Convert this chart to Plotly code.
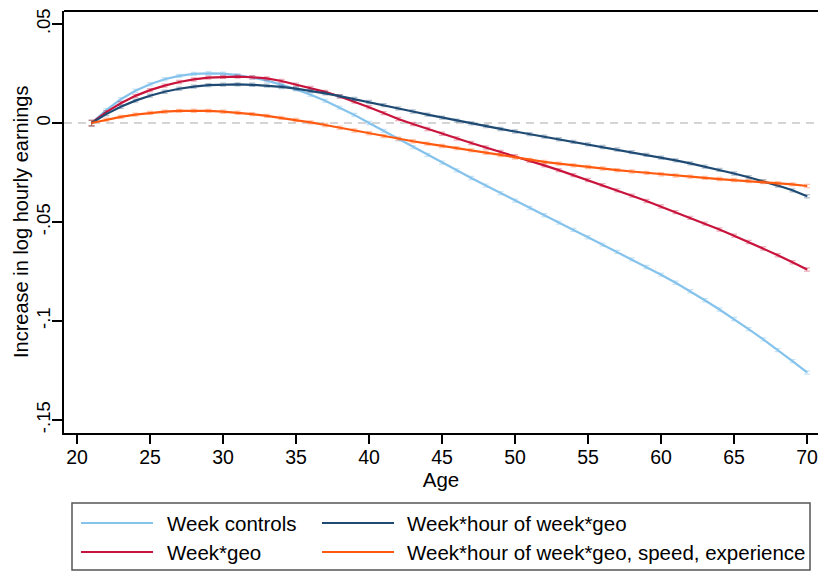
import plotly.graph_objects as go

# ---------------- data ----------------
ages = list(range(21, 71))

week_controls = [
    0.0000, 0.0065, 0.0120, 0.0163, 0.0196, 0.0221, 0.0238, 0.0248, 0.0251, 0.0249,
    0.0242, 0.0230, 0.0214, 0.0194, 0.0170, 0.0143, 0.0112, 0.0078, 0.0041, 0.0000,
    -0.0040, -0.0082, -0.0122, -0.0161, -0.0200, -0.0239, -0.0278, -0.0316, -0.0354, -0.0392,
    -0.0429, -0.0466, -0.0503, -0.0540, -0.0577, -0.0614, -0.0651, -0.0689, -0.0727, -0.0766,
    -0.0807, -0.0850, -0.0895, -0.0942, -0.0990, -0.1041, -0.1093, -0.1147, -0.1203, -0.1260,
]

week_geo = [
    0.0000, 0.0055, 0.0100, 0.0137, 0.0166, 0.0189, 0.0207, 0.0220, 0.0229, 0.0233,
    0.0234, 0.0231, 0.0225, 0.0212, 0.0194, 0.0177, 0.0157, 0.0134, 0.0108, 0.0080,
    0.0050, 0.0020, -0.0005, -0.0030, -0.0054, -0.0078, -0.0101, -0.0124, -0.0146, -0.0168,
    -0.0191, -0.0214, -0.0238, -0.0263, -0.0288, -0.0314, -0.0340, -0.0367, -0.0394, -0.0422,
    -0.0450, -0.0479, -0.0508, -0.0538, -0.0569, -0.0601, -0.0634, -0.0668, -0.0703, -0.0740,
]

week_hour_geo = [
    0.0000, 0.0045, 0.0082, 0.0113, 0.0138, 0.0158, 0.0173, 0.0184, 0.0191, 0.0194,
    0.0195, 0.0193, 0.0189, 0.0182, 0.0174, 0.0163, 0.0150, 0.0136, 0.0121, 0.0106,
    0.0090, 0.0074, 0.0058, 0.0042, 0.0027, 0.0012, -0.0002, -0.0016, -0.0030, -0.0043,
    -0.0056, -0.0069, -0.0082, -0.0095, -0.0108, -0.0121, -0.0134, -0.0147, -0.0161, -0.0175,
    -0.0189, -0.0204, -0.0220, -0.0237, -0.0255, -0.0274, -0.0294, -0.0316, -0.0340, -0.0370,
]

week_hour_geo_full = [
    0.0000, 0.0017, 0.0031, 0.0042, 0.0051, 0.0057, 0.0061, 0.0062, 0.0061, 0.0057,
    0.0052, 0.0045, 0.0036, 0.0026, 0.0015, 0.0003, -0.0010, -0.0024, -0.0038, -0.0052,
    -0.0066, -0.0079, -0.0092, -0.0104, -0.0116, -0.0127, -0.0138, -0.0150, -0.0162, -0.0175,
    -0.0186, -0.0196, -0.0205, -0.0214, -0.0222, -0.0230, -0.0238, -0.0245, -0.0252, -0.0259,
    -0.0265, -0.0271, -0.0277, -0.0283, -0.0288, -0.0293, -0.0298, -0.0304, -0.0310, -0.0318,
]

# approximate 95% CI half-widths (read off the tiny caps)
ci_halfwidth = [0.0014] + [0.0008] * 49

series_names = [
    "Week controls",
    "Week*geo",
    "Week*hour of week*geo",
    "Week*hour of week*geo, speed, experience",
]
series_values = [week_controls, week_geo, week_hour_geo, week_hour_geo_full]
series_colors = ["#86C3EC", "#C8143C", "#1E4A73", "#FF5A0F"]
series_ci_colors = ["rgba(134,195,236,0.45)", "rgba(200,20,60,0.35)",
                    "rgba(30,74,115,0.35)", "rgba(255,90,15,0.35)"]

x_ticks = [20, 25, 30, 35, 40, 45, 50, 55, 60, 65, 70]
y_ticks = [0.05, 0, -0.05, -0.1, -0.15]
y_tick_labels = [".05", "0", "-.05", "-.1", "-.15"]

# ---------------- figure ----------------
W, H = 818, 571
ML, MR, MT, MB = 64, 0, 11, 138
FONT = "Liberation Sans, Arial, Helvetica, sans-serif"
FS = 20.5      # legend / titles
FS_TICK = 19.5
FS_YTICK = 18.5

fig = go.Figure()

# zero reference line
fig.add_hline(y=0, line=dict(color="#C8C8C8", width=1.5, dash="8px,6px"), layer="below")

for i in range(len(series_names)):
    fig.add_trace(go.Scatter(
        x=ages, y=series_values[i], mode="lines", name=series_names[i],
        line=dict(color=series_colors[i], width=2.2),
        error_y=dict(type="data", array=ci_halfwidth, visible=True,
                     color=series_ci_colors[i], thickness=1.2, width=3),
        showlegend=False,
    ))

fig.update_layout(
    width=W, height=H,
    margin=dict(l=ML, r=MR, t=MT, b=MB, pad=0),
    paper_bgcolor="white", plot_bgcolor="white",
    font=dict(family=FONT, size=FS, color="black"),
)

fig.update_xaxes(
    range=[19.11, 70.75], tickvals=x_ticks, ticks="outside", ticklen=9, tickwidth=1.5,
    tickcolor="black", showline=True, linecolor="black", linewidth=2,
    showgrid=False, zeroline=False, ticklabeloverflow="allow", ticklabelstandoff=-3,
    title=dict(text="Age", standoff=2, font=dict(size=FS)),
    tickfont=dict(size=FS_TICK),
)
fig.update_yaxes(
    range=[-0.15657, 0.05657], tickvals=y_ticks, ticktext=y_tick_labels,
    tickangle=-90, ticks="outside", ticklen=10, tickwidth=1.5, tickcolor="black",
    showline=True, linecolor="black", linewidth=2, showgrid=False, zeroline=False,
    ticklabelstandoff=-5, tickfont=dict(size=FS_YTICK),
)

plot_w = W - ML - MR
plot_h = H - MT - MB


def px_x(px):
    return (px - ML) / plot_w


def px_y(py):
    return (H - MB - py) / plot_h


# y-axis title
fig.add_annotation(xref="paper", yref="paper", x=px_x(21), y=0.5,
                   text="Increase in log hourly earnings", textangle=-90,
                   showarrow=False, xanchor="center", yanchor="middle",
                   font=dict(size=20, color="black"))

# top frame line of plot region
fig.add_shape(type="line", xref="paper", yref="paper", x0=0, x1=1, y0=1, y1=1,
              line=dict(color="black", width=2))

# ---------------- custom legend (Stata style) ----------------
fig.add_shape(type="rect", xref="paper", yref="paper",
              x0=px_x(72), x1=px_x(810), y0=px_y(570), y1=px_y(503),
              line=dict(color="#555555", width=1.5), fillcolor="white")

legend_slots = [  # (line x0, line x1, text x, row y) for each series
    (81, 153, 165, 523),
    (81, 153, 165, 552),
    (322, 394, 405, 523),
    (322, 394, 405, 552),
]
for i, (lx0, lx1, tx, ry) in enumerate(legend_slots):
    fig.add_shape(type="line", xref="paper", yref="paper",
                  x0=px_x(lx0), x1=px_x(lx1), y0=px_y(ry), y1=px_y(ry),
                  line=dict(color=series_colors[i], width=2.2))
    fig.add_annotation(xref="paper", yref="paper", x=px_x(tx), y=px_y(ry),
                       text=series_names[i], showarrow=False, xanchor="left",
                       yanchor="middle", font=dict(size=FS, color="black"))

fig.write_html("out.html")
